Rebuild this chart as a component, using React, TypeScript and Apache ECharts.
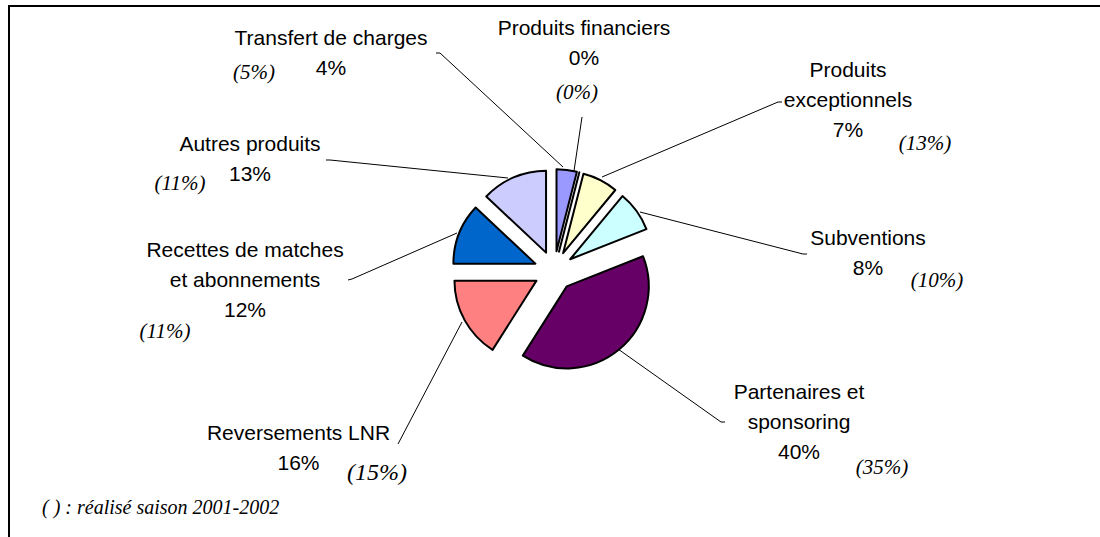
import React, { useEffect, useRef } from "react";
import * as echarts from "echarts";

// ---- data ----
const categories = [
  "Transfert de charges",
  "Produits financiers",
  "Produits\nexceptionnels",
  "Subventions",
  "Partenaires et\nsponsoring",
  "Reversements LNR",
  "Recettes de matches\net abonnements",
  "Autres produits",
];
const currentShare = [4, 0, 7, 8, 40, 16, 12, 13];
const previousShare = [5, 0, 13, 10, 35, 15, 11, 11];
const sliceColors = ["#9999FF", "#993366", "#FFFFCC", "#CCFFFF", "#660066", "#FF8080", "#0066CC", "#CCCCFF"];
const footnote = "( ) : réalisé saison 2001-2002";

// ---- layout (positions only) ----
const pieCenter: [number, number] = [554, 271];
const pieRadius = 82;
const explode = 20;
const labelPos: [number, number][] = [
  [331, 52], [584, 42.5], [848, 99], [868, 252], [799, 421], [298.5, 447], [245, 279], [250, 158.5],
];
const leaderLines: [number, number][][] = [
  [[563, 167], [440, 53], [436, 53]],
  [[574, 171], [582, 117], [582, 117]],
  [[602, 177], [778, 102], [782, 102]],
  [[640, 212], [803, 254], [807, 254]],
  [[618, 349], [721, 422], [725, 422]],
  [[462, 322], [398, 444], [398, 444]],
  [[457, 233], [352, 279], [348, 280]],
  [[508, 178], [330, 160], [326, 160]],
];
const prevPos: [number, number][] = [
  [254, 72], [577, 92], [925, 143], [937, 280], [882, 467], [377, 472], [165, 331], [180, 183],
];
const prevSize = [21, 21, 21, 21, 21, 24, 21, 21];

export default function App() {
  const ref = useRef<HTMLDivElement>(null);
  useEffect(() => {
    document.body.style.margin = "0";
    if (!ref.current) return;
    const chart = echarts.init(ref.current, null, { renderer: "svg" });
    const total = currentShare.reduce((a, b) => a + b, 0);
    let cum = 0;
    const series = categories.map((_, k) => {
      const start = cum;
      cum += currentShare[k];
      const midDeg = ((start + currentShare[k] / 2) / total) * 360; // clockwise from top
      const rad = (midDeg * Math.PI) / 180;
      const cx = pieCenter[0] + explode * Math.sin(rad);
      const cy = pieCenter[1] - explode * Math.cos(rad);
      return {
        type: "pie",
        center: [cx, cy],
        radius: pieRadius,
        startAngle: 90,
        clockwise: true,
        avoidLabelOverlap: false,
        emphasis: { disabled: true },
        silent: true,
        label: {
          show: true,
          color: "#000",
          fontFamily: '"Liberation Sans", Arial, sans-serif',
          fontSize: 21,
          lineHeight: 30,
          align: "center",
          formatter: (p: any) => `${p.name}\n${Math.round(p.percent)}%`,
        },
        labelLine: { show: true, lineStyle: { color: "#000", width: 1 } },
        labelLayout: (params: any) => {
          const i = params.dataIndex;
          return {
            x: labelPos[i][0],
            y: labelPos[i][1],
            align: "center",
            verticalAlign: "middle",
            labelLinePoints: leaderLines[i],
          };
        },
        data: categories.map((name, i) => {
          const visible = i === k;
          return {
            name,
            value: currentShare[i],
            itemStyle: visible
              ? { color: sliceColors[i], borderColor: "#000", borderWidth: 2 }
              : { color: "rgba(0,0,0,0)", borderWidth: 0 },
            label: { show: visible },
            labelLine: { show: visible },
          };
        }),
      };
    });
    const option: any = {
      animation: false,
      backgroundColor: "#ffffff",
      graphic: [
        { type: "line", shape: { x1: 8, y1: 6, x2: 1100, y2: 6 }, style: { stroke: "#000", lineWidth: 2 } },
        { type: "line", shape: { x1: 9, y1: 6, x2: 9, y2: 537 }, style: { stroke: "#000", lineWidth: 2 } },
        ...previousShare.map((v, i) => ({
          type: "text",
          x: prevPos[i][0],
          y: prevPos[i][1],
          style: {
            text: `(${v}%)`,
            fill: "#000",
            font: `italic ${prevSize[i]}px "Liberation Serif", "Times New Roman", serif`,
            align: "center",
            verticalAlign: "middle",
          },
        })),
        {
          type: "text",
          x: 42,
          y: 507,
          style: {
            text: footnote,
            fill: "#000",
            font: `italic 20px "Liberation Serif", "Times New Roman", serif`,
            align: "left",
            verticalAlign: "middle",
          },
        },
      ],
      series,
    };
    chart.setOption(option);
    return () => chart.dispose();
  }, []);
  return <div ref={ref} style={{ width: 1100, height: 537 }} />;
}
